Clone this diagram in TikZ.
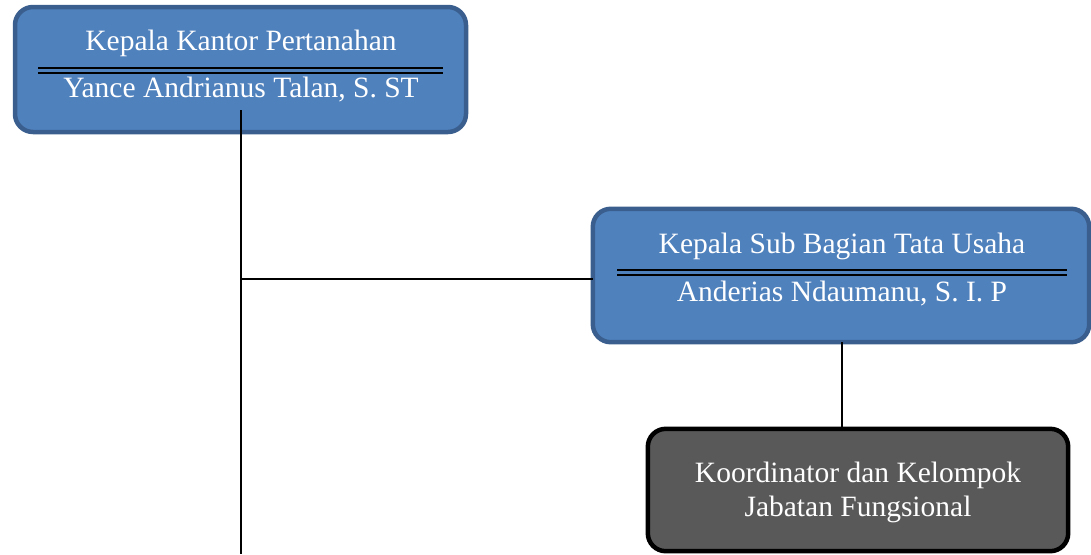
\documentclass[tikz,border=0pt]{standalone}
\usepackage{fontspec}
\setmainfont{Liberation Serif}
\definecolor{boxblue}{HTML}{4F81BD}
\definecolor{boxblueedge}{HTML}{3A5F8E}
\definecolor{boxgrey}{HTML}{595959}
\begin{document}
\begin{tikzpicture}[x=1pt,y=-1pt,
  bluebox/.style={draw=boxblueedge,fill=boxblue,line width=4.5pt,rounded corners=18pt},
  greybox/.style={draw=black,fill=boxgrey,line width=4.5pt,rounded corners=18pt},
  lbl/.style={text=white,font=\fontsize{29.5}{34}\selectfont,inner sep=0pt},
  sep/.style={draw=black,line width=2pt},
  conn/.style={draw=black,line width=1.5pt}]
\useasboundingbox (0,0) rectangle (1091,554);
% box 1
\draw[bluebox] (15,7) rectangle (466,132);
\node[lbl] (t1) at (241,43) {Kepala Kantor Pertanahan};
\node[lbl] (n1) at (241,90) {Yance Andrianus Talan, S. ST};
\draw[sep] (38,68) -- (443,68);
\draw[sep] (38,72.5) -- (443,72.5);
\coordinate (b1) at (241,110);
% box 2
\node[draw=none,minimum width=496pt,minimum height=133pt,inner sep=0pt] (box2) at (841,275.5) {};
\draw[bluebox] (box2.north west) rectangle (box2.south east);
\node[lbl] (t2) at (842,246) {Kepala Sub Bagian Tata Usaha};
\node[lbl] (n2) at (842,294) {Anderias Ndaumanu, S. I. P};
\draw[sep] (617,270) -- (1067,270);
\draw[sep] (617,274.5) -- (1067,274.5);
% box 3
\node[draw=none,minimum width=420pt,minimum height=122pt,inner sep=0pt] (box3) at (858,490) {};
\draw[greybox] (box3.north west) rectangle (box3.south east);
\node[lbl,align=center,font=\fontsize{29.5}{34}\selectfont] (t3) at (858,492) {Koordinator dan Kelompok\\Jabatan Fungsional};
% connectors
\coordinate (bot) at (241,554);
\coordinate (j1) at (241,279);
\draw[conn] (b1) -- (bot);
\draw[conn] (j1) -- (box2.west |- j1);
\draw[conn] (842,342) -- (842,429);
\end{tikzpicture}
\end{document}
